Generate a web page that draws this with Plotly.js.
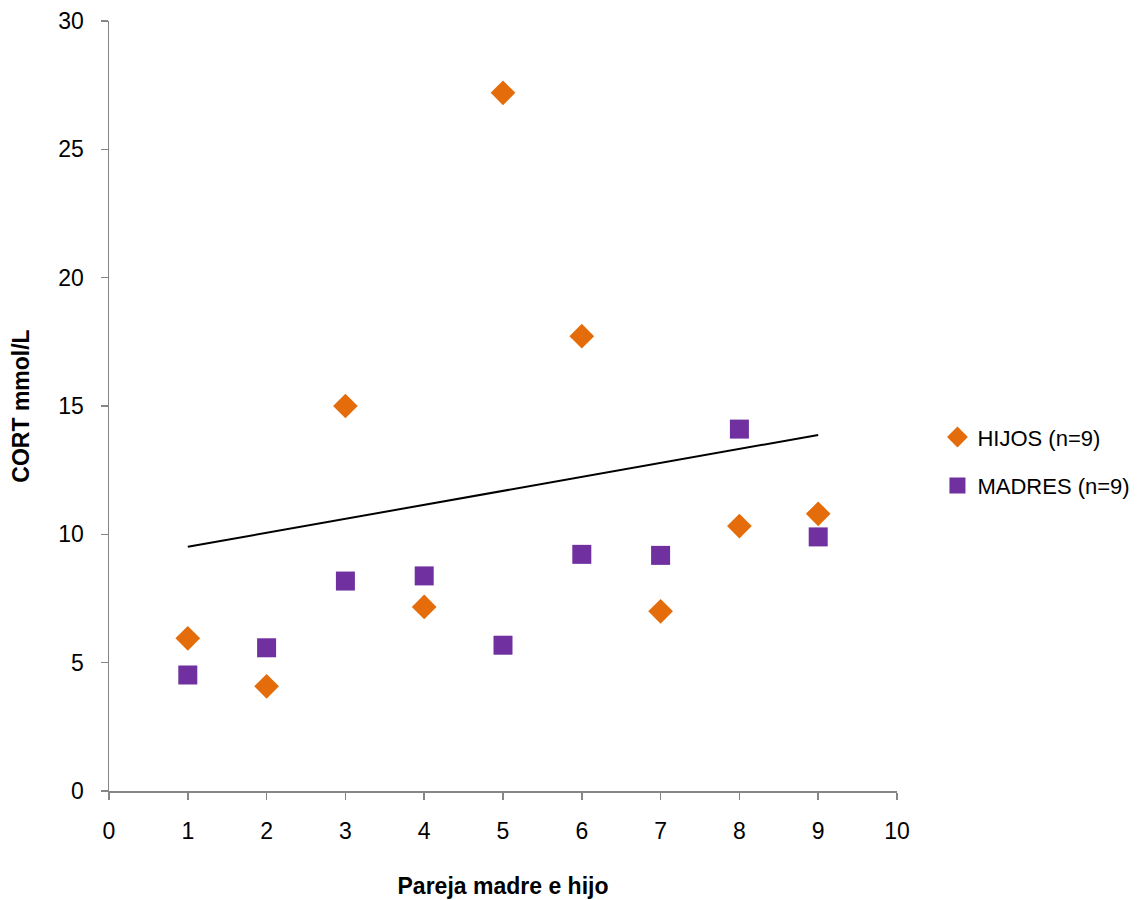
<!DOCTYPE html>
<html>
<head>
<meta charset="utf-8">
<script src="https://cdn.plot.ly/plotly-3.0.1.min.js"></script>
<style>html,body{margin:0;padding:0;background:#fff;}#chart{width:1137px;height:900px;}</style>
</head>
<body>
<div id="chart"></div>
<script>
const pairs = [1, 2, 3, 4, 5, 6, 7, 8, 9];
const hijos = [5.95, 4.08, 15.0, 7.17, 27.2, 17.72, 7.0, 10.32, 10.8];
const madres = [4.52, 5.58, 8.18, 8.38, 5.68, 9.22, 9.18, 14.1, 9.9];
const seriesNames = ['HIJOS (n=9)', 'MADRES (n=9)'];
const xTicks = [0, 1, 2, 3, 4, 5, 6, 7, 8, 9, 10];
const yTicks = [0, 5, 10, 15, 20, 25, 30];

// linear trendline of HIJOS (least squares)
const n = pairs.length;
const mx = pairs.reduce((a, b) => a + b, 0) / n;
const my = hijos.reduce((a, b) => a + b, 0) / n;
let sxy = 0, sxx = 0;
for (let i = 0; i < n; i++) { sxy += (pairs[i] - mx) * (hijos[i] - my); sxx += (pairs[i] - mx) ** 2; }
const slope = sxy / sxx, icpt = my - slope * mx;
const trendX = [pairs[0], pairs[n - 1]];
const trendY = trendX.map(x => icpt + slope * x);

const font = 'Liberation Sans, Arial, sans-serif';
const traces = [
  {x: pairs, y: hijos, name: seriesNames[0], type: 'scatter', mode: 'markers', legendgroup: 'a',
   marker: {symbol: 'diamond', size: 19, color: '#E46C0A'}},
  {x: pairs, y: madres, name: seriesNames[1], type: 'scatter', mode: 'markers', legendgroup: 'b',
   marker: {symbol: 'square', size: 19, color: '#7030A0'}},
  {x: trendX, y: trendY, type: 'scatter', mode: 'lines', showlegend: false, hoverinfo: 'skip',
   line: {color: '#000', width: 2}}
];
const axisCommon = {
  showgrid: false, zeroline: false, showline: true, linecolor: '#868686', linewidth: 1.5,
  ticks: 'outside', ticklen: 7, tickcolor: '#868686', tickwidth: 1.5,
  tickfont: {family: font, size: 23, color: '#000'}
};
const layout = {
  width: 1137, height: 900,
  margin: {l: 109, r: 240, t: 21, b: 109},
  paper_bgcolor: '#fff', plot_bgcolor: '#fff',
  font: {family: font, color: '#000'},
  xaxis: Object.assign({}, axisCommon, {range: [0, 10], tickvals: xTicks, ticklabelstandoff: 12,
    title: {text: '<b>Pareja madre e hijo</b>', font: {family: font, size: 23}, standoff: 35}}),
  yaxis: Object.assign({}, axisCommon, {range: [0, 30], tickvals: yTicks, ticklabelstandoff: 12,
    title: {text: '<b>CORT mmol/L</b>', font: {family: font, size: 23}, standoff: 22}}),
  showlegend: true,
  legend: {xref: 'container', x: 0.8245, xanchor: 'left', yref: 'container', y: 0.487, yanchor: 'middle',
    traceorder: 'grouped', tracegroupgap: 17, font: {family: font, size: 22, color: '#000'}, itemwidth: 30}
};
Plotly.newPlot('chart', traces, layout, {displayModeBar: false, staticPlot: true});
</script>
</body>
</html>
